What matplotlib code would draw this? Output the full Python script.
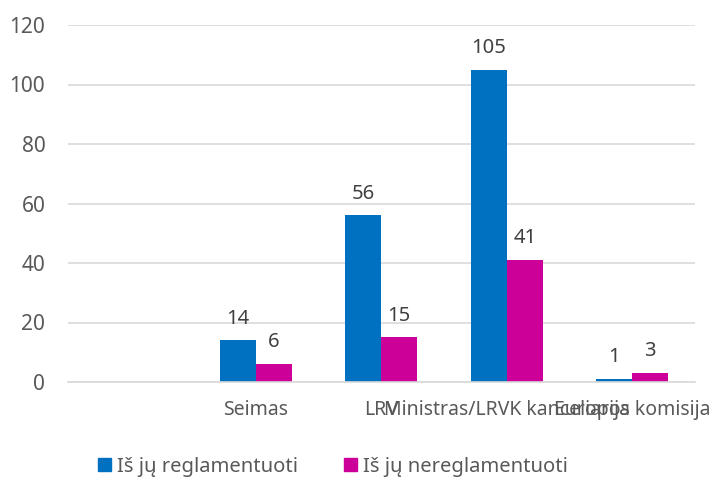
import numpy as np
import matplotlib.pyplot as plt
from matplotlib.patches import Patch

plt.rcParams['font.family'] = ['Noto Sans', 'DejaVu Sans']

# duomenys
kategorijos = ['', 'Seimas', 'LRV', 'Ministras/LRVK kanceliarija', 'Europos komisija']
reglamentuoti = [np.nan, 14, 56, 105, 1]
nereglamentuoti = [np.nan, 6, 15, 41, 3]
serijos = ['Iš jų reglamentuoti', 'Iš jų nereglamentuoti']
y_ticks = [0, 20, 40, 60, 80, 100, 120]

melyna = '#0070C0'
rozine = '#CC0099'
pilka = '#595959'

fig = plt.figure(figsize=(7.16, 4.91), dpi=100)
ax = fig.add_axes([67.5 / 716, 109 / 491, 627.5 / 716, 357 / 491])

x = np.arange(len(kategorijos))
w = 0.287
b1 = ax.bar(x - w / 2, reglamentuoti, w, color=melyna)
b2 = ax.bar(x + w / 2, nereglamentuoti, w, color=rozine)

# reikšmės virš stulpelių
for xs, vals in [(x - w / 2, reglamentuoti), (x + w / 2, nereglamentuoti)]:
    for xi, v in zip(xs, vals):
        if np.isnan(v):
            continue
        ax.annotate(str(int(v)), (xi, v), xytext=(0, 12), textcoords='offset points',
                    ha='center', va='baseline', fontsize=14.5, color='#404040')

ax.set_xlim(-0.5, len(kategorijos) - 0.5)
ax.set_ylim(0, 120)
ax.set_yticks(y_ticks)
ax.set_xticks(x)
ax.set_xticklabels(kategorijos)
ax.tick_params(axis='y', length=0, pad=16, labelsize=15, labelcolor=pilka)
ax.tick_params(axis='x', length=0, pad=13, labelsize=14, labelcolor=pilka)
ax.grid(axis='y', color='#D9D9D9', linewidth=1.2)
ax.set_axisbelow(True)
for s in ['top', 'right', 'left']:
    ax.spines[s].set_visible(False)
ax.spines['bottom'].set_color('#D9D9D9')
ax.spines['bottom'].set_linewidth(1.2)

# legenda
rankenos = [Patch(color=melyna), Patch(color=rozine)]
fig.legend(rankenos, serijos, loc='center', bbox_to_anchor=(333 / 716, 1 - 467 / 491),
           ncol=2, frameon=False, fontsize=14.5, labelcolor=pilka,
           handlelength=0.62, handleheight=0.62, handletextpad=0.3, columnspacing=2.3)

fig.savefig('out.png', dpi=100)
